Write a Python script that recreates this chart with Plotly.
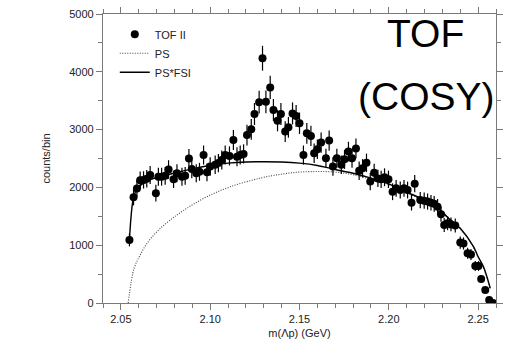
import plotly.graph_objects as go

# ---- data ----
data_m = [2.0548, 2.0571, 2.0590, 2.0608, 2.0627, 2.0645, 2.0664, 2.0696, 2.0710, 2.0728,
          2.0748, 2.0767, 2.0795, 2.0814, 2.0842, 2.0860, 2.0881, 2.0897, 2.0922, 2.0940,
          2.0963, 2.0982, 2.1000, 2.1028, 2.1046, 2.1065, 2.1084, 2.1108, 2.1130, 2.1150,
          2.1168, 2.1187, 2.1206, 2.1230, 2.1248, 2.1274, 2.1293, 2.1312, 2.1336, 2.1354,
          2.1377, 2.1396, 2.1420, 2.1438, 2.1461, 2.1481, 2.1500, 2.1522, 2.1541, 2.1564,
          2.1582, 2.1600, 2.1621, 2.1648, 2.1666, 2.1687, 2.1709, 2.1734, 2.1752, 2.1774,
          2.1794, 2.1816, 2.1834, 2.1853, 2.1875, 2.1896, 2.1918, 2.1939, 2.1957, 2.1976,
          2.1998, 2.2021, 2.2041, 2.2064, 2.2085, 2.2105, 2.2127, 2.2145, 2.2176, 2.2198,
          2.2217, 2.2236, 2.2254, 2.2273, 2.2292, 2.2310, 2.2329, 2.2348, 2.2372, 2.2400,
          2.2418, 2.2441, 2.2460, 2.2484, 2.2502, 2.2517, 2.2540, 2.2562, 2.2583]
data_counts = [1090, 1830, 1980, 2125, 2130, 2150, 2215, 1900, 2185, 2185,
               2200, 2310, 2140, 2245, 2185, 2200, 2500, 2320, 2245, 2270,
               2560, 2260, 2360, 2390, 2420, 2475, 2560, 2545, 2820, 2530,
               2560, 2580, 2905, 3005, 3270, 3475, 4235, 3480, 3730, 3340,
               3155, 3270, 2965, 3040, 3280, 3235, 3110, 2560, 2935, 2890,
               2590, 2660, 2775, 2505, 2810, 2360, 2505, 2390, 2485, 2620,
               2505, 2675, 2290, 2330, 2425, 2100, 2255, 2155, 2140, 2175,
               2140, 1925, 1985, 1955, 1985, 1955, 1735, 2065, 1780, 1770,
               1755, 1735, 1715, 1665, 1535, 1350, 1380, 1360, 1340, 1045,
               1030, 860, 840, 640, 640, 415, 225, 50, 0]
data_err = [110, 140, 145, 150, 150, 150, 155, 145, 155, 155,
            155, 160, 150, 155, 155, 155, 165, 160, 155, 155,
            165, 155, 160, 160, 160, 165, 165, 165, 175, 165,
            165, 165, 180, 180, 190, 195, 215, 195, 200, 190,
            185, 190, 180, 180, 190, 190, 185, 165, 180, 175,
            170, 170, 175, 165, 175, 160, 165, 160, 165, 170,
            165, 170, 160, 160, 160, 150, 155, 150, 150, 155,
            150, 145, 145, 145, 145, 145, 135, 150, 140, 140,
            140, 135, 135, 135, 130, 120, 120, 120, 120, 105,
            105, 95, 95, 85, 85, 65, 50, 25, 0]

ps_m = [2.0541, 2.0574, 2.0608, 2.0646, 2.0702, 2.0776, 2.0870, 2.0982, 2.1112, 2.1280,
        2.1400, 2.1500, 2.1600, 2.1700, 2.1800, 2.1900, 2.2000, 2.2100, 2.2200, 2.2300,
        2.2400, 2.2450, 2.2500, 2.2535, 2.2568]
ps_counts = [0, 600, 830, 1030, 1235, 1435, 1640, 1840, 2010, 2160,
             2230, 2265, 2275, 2265, 2220, 2140, 2050, 1910, 1760, 1560,
             1280, 1090, 800, 560, 250]

fsi_m = [2.0548, 2.0571, 2.0590, 2.0620, 2.0660, 2.0700, 2.0800, 2.0900, 2.1000, 2.1100,
         2.1200, 2.1300, 2.1400, 2.1500, 2.1600, 2.1700, 2.1800, 2.1900, 2.2000, 2.2100,
         2.2200, 2.2250, 2.2300, 2.2325, 2.2400, 2.2474, 2.2500, 2.2530, 2.2568]
fsi_counts = [1090, 1830, 1970, 2060, 2130, 2170, 2250, 2320, 2380, 2420,
              2440, 2445, 2440, 2420, 2380, 2310, 2245, 2160, 2060, 1920,
              1780, 1690, 1580, 1493, 1292, 974, 800, 628, 254]

x_ticks = [2.05, 2.10, 2.15, 2.20, 2.25]
x_ticklabels = ["2.05", "2.10", "2.15", "2.20", "2.25"]
y_ticks = [0, 1000, 2000, 3000, 4000, 5000]
y_ticklabels = ["0", "1000", "2000", "3000", "4000", "5000"]

FONT = "Liberation Sans, Arial, sans-serif"
AX = "#7a7a7a"

fig = go.Figure()

fig.add_trace(go.Scatter(
    x=ps_m, y=ps_counts, mode="lines", name="PS", legendrank=2,
    line=dict(color="#444444", width=1.1, dash="1px,1.5px", shape="spline"),
))
fig.add_trace(go.Scatter(
    x=fsi_m, y=fsi_counts, mode="lines", name="PS*FSI", legendrank=3,
    line=dict(color="black", width=1.4, shape="spline"),
))
fig.add_trace(go.Scatter(
    x=data_m, y=data_counts, mode="markers", name="TOF II", legendrank=1,
    marker=dict(color="black", size=8, symbol="circle"),
    error_y=dict(type="data", array=data_err, visible=True, color="black",
                 thickness=1.2, width=0),
))

axis_common = dict(
    showline=True, linecolor=AX, linewidth=1.2, mirror="allticks",
    ticks="outside", tickcolor=AX, ticklen=6, tickwidth=1,
    showgrid=False, zeroline=False, automargin=False,
    tickfont=dict(family=FONT, size=11, color="#222222"),
)

fig.update_xaxes(
    range=[2.04, 2.26], tickvals=x_ticks, ticktext=x_ticklabels,
    minor=dict(dtick=0.01, tick0=2.04, ticks="outside", ticklen=4, tickcolor=AX),
    title=dict(text="m(Λp) (GeV)", font=dict(family=FONT, size=11, color="#222222"), standoff=5),
    **axis_common,
)
fig.update_yaxes(
    range=[0, 5000], tickvals=y_ticks, ticktext=y_ticklabels,
    minor=dict(dtick=500, ticks="outside", ticklen=4, tickcolor=AX),
    title=dict(text="counts/bin", font=dict(family=FONT, size=11, color="#222222"), standoff=16),
    **axis_common,
)

fig.add_annotation(text="TOF", xref="paper", yref="paper", x=0.82, y=0.932,
                   xanchor="center", yanchor="middle",
                   showarrow=False, font=dict(family=FONT, size=39, color="black"))
fig.add_annotation(text="(COSY)", xref="paper", yref="paper", x=0.822, y=0.713,
                   xanchor="center", yanchor="middle",
                   showarrow=False, font=dict(family=FONT, size=39, color="black"))

fig.update_layout(
    width=523, height=342,
    margin=dict(l=103, r=27, t=14, b=39),
    plot_bgcolor="white", paper_bgcolor="white",
    font=dict(family=FONT, size=11, color="#222222"),
    legend=dict(x=0.03, y=0.98, xanchor="left", yanchor="top",
                bgcolor="rgba(0,0,0,0)", font=dict(family=FONT, size=11),
                tracegroupgap=0, itemwidth=30),
)

fig.write_html("out.html")
